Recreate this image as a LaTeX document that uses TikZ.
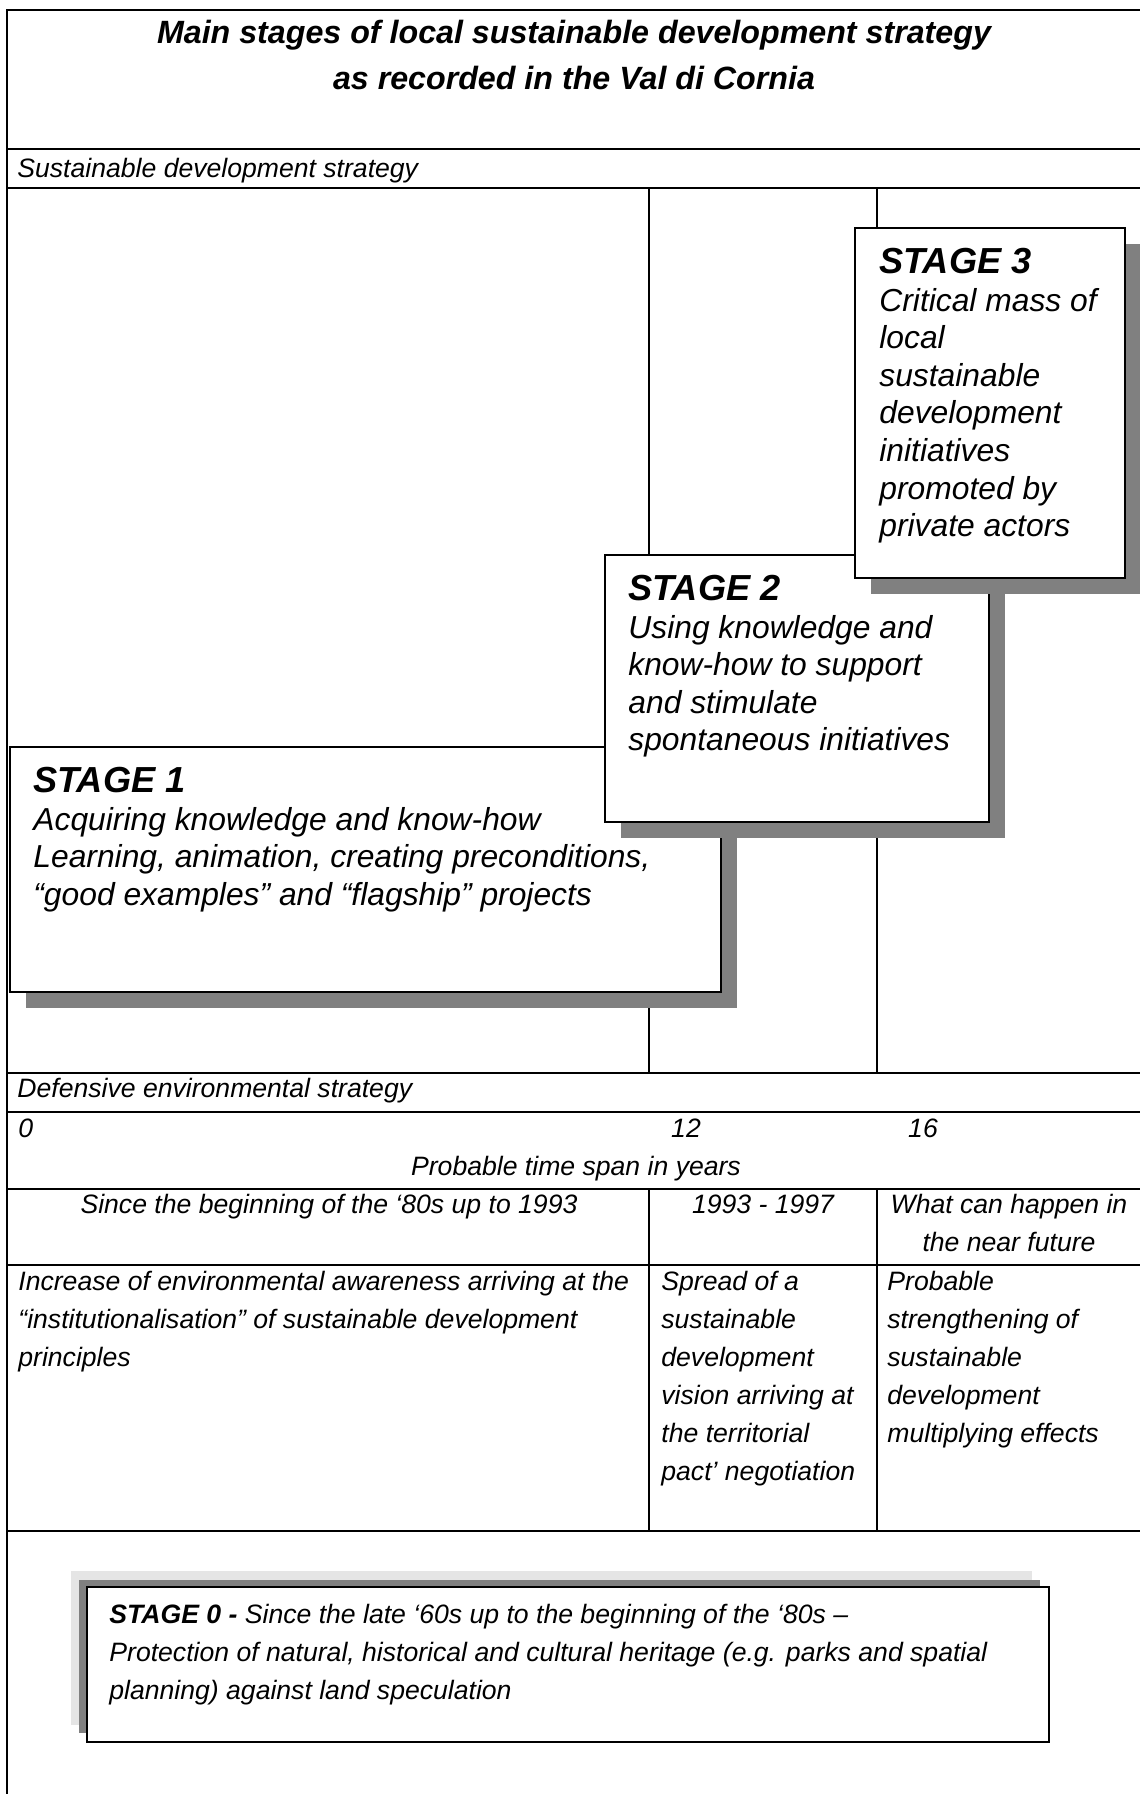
\documentclass[tikz,border=0pt]{standalone}
\usepackage{fontspec}
\setmainfont{Liberation Sans}
\usetikzlibrary{positioning}
\definecolor{shadowgray}{gray}{0.5}
\definecolor{palegray}{gray}{0.9}
\newcommand\stagebox[4]{%
  \fill[boxshadow] (#1+16,#2+16) rectangle (#3+16,#4+16); % drop shadow
  \draw[boxframe] (#1,#2) rectangle (#3,#4);
}
\tikzset{%
  rule/.style={line width=1.15pt},%
  boxframe/.style={draw=black,fill=white,line width=0.75pt},%
  boxshadow/.style={fill=shadowgray},%
  title/.style={font=\fontsize{16.1}{23}\selectfont\bfseries\itshape,inner sep=0pt,anchor=base},%
  small/.style={font=\fontsize{13.3}{19}\selectfont\itshape,inner sep=0pt,anchor=base west},%
  big/.style={font=\fontsize{15.9}{19}\selectfont\itshape,inner sep=0pt,anchor=base west},%
  head/.style={font=\fontsize{18.1}{19}\selectfont\bfseries\itshape,inner sep=0pt,anchor=base west}%
}

\begin{document}
\begin{tikzpicture}[x=0.5pt,y=-0.5pt]
	%% frame of the table
	\useasboundingbox (0,0) rectangle (1140,1794);
	\clip (0,0) rectangle (1140,1794);
	\draw[rule] (7,1800) -- (7,10) -- (1150,10);
	\foreach \y in {149,188,1073,1112,1189,1265,1531}
		\draw[rule] (7,\y) -- (1150,\y);
	\foreach \x in {649,877} {
		\draw[rule] (\x,188) -- (\x,1073);
		\draw[rule] (\x,1189) -- (\x,1531);
	}
	
	%% title
	\node[title] (title1) at (574,43) {Main stages of local sustainable development strategy};
	\node[title] (title2) at (574,89) {as recorded in the Val di Cornia};
	
	%% strategies and time axis
	\node[small] (sustain) at (17,177) {Sustainable development strategy};
	\node[small] (defense) at (17,1097) {Defensive environmental strategy};
	\node[small] (year0) at (18,1137) {0};
	\node[small,anchor=base] (year12) at (686,1137) {12};
	\node[small,anchor=base] (year16) at (923,1137) {16};
	\node[small,anchor=base] (span) at (576,1175) {Probable time span in years};
	
	%% periods
	\node[small,anchor=base] (period1) at (329,1213) {Since the beginning of the ‘80s up to 1993};
	\node[small,anchor=base] (period2) at (763,1213) {1993 - 1997};
	\node[small,anchor=base] (period3a) at (1009,1213) {What can happen in};
	\node[small,anchor=base] (period3b) at (1009,1251) {the near future};
	
	%% what happened
	\foreach \t [count=\i from 0] in {Increase of environmental awareness arriving at the,
		“institutionalisation” of sustainable development, principles}
		\node[small] (event1\i) at (18,{1290+38*\i}) {\t};
	\foreach \t [count=\i from 0] in {Spread of a, sustainable, development,
		vision arriving at, the territorial, pact’ negotiation}
		\node[small] (event2\i) at (661,{1290+38*\i}) {\t};
	\foreach \t [count=\i from 0] in {Probable, strengthening of, sustainable,
		development, multiplying effects}
		\node[small] (event3\i) at (887,{1290+38*\i}) {\t};
	
	%% stage 1
	\stagebox{10}{747}{721}{992}
	\node[head] (stage1) at (33,792) {STAGE 1};
	\foreach \t [count=\i from 0] in {Acquiring knowledge and know-how,
		{Learning, animation, creating preconditions,},
		“good examples” and “flagship” projects}
		\node[big] (stage1\i) at (33,{830+37.6*\i}) {\t};
	
	%% stage 2
	\stagebox{605}{555}{989}{822}
	\node[head] (stage2) at (628,600) {STAGE 2};
	\foreach \t [count=\i from 0] in {Using knowledge and, know-how to support,
		and stimulate, spontaneous initiatives}
		\node[big] (stage2\i) at (628,{638+37.6*\i}) {\t};
	
	%% stage 3
	\stagebox{855}{228}{1125}{578}
	\node[head] (stage3) at (879,273) {STAGE 3};
	\foreach \t [count=\i from 0] in {Critical mass of, local, sustainable,
		development, initiatives, promoted by, private actors}
		\node[big] (stage3\i) at (879,{311+37.6*\i}) {\t};
	
	%% stage 0
	\fill[palegray] (71,1571) rectangle (1032,1725);
	\fill[shadowgray] (79,1580) rectangle (1040,1733);
	\draw[boxframe] (87,1587) rectangle (1049,1742);
	\node[small] (stage0a) at (109,1623) {\textbf{STAGE 0 -} Since the late ‘60s up to the beginning of the ‘80s –};
	\node[small] (stage0b) at (109,1661) {Protection of natural, historical and cultural heritage (e.g. parks and spatial};
	\node[small] (stage0c) at (109,1699) {planning) against land speculation};
\end{tikzpicture}
\end{document}
